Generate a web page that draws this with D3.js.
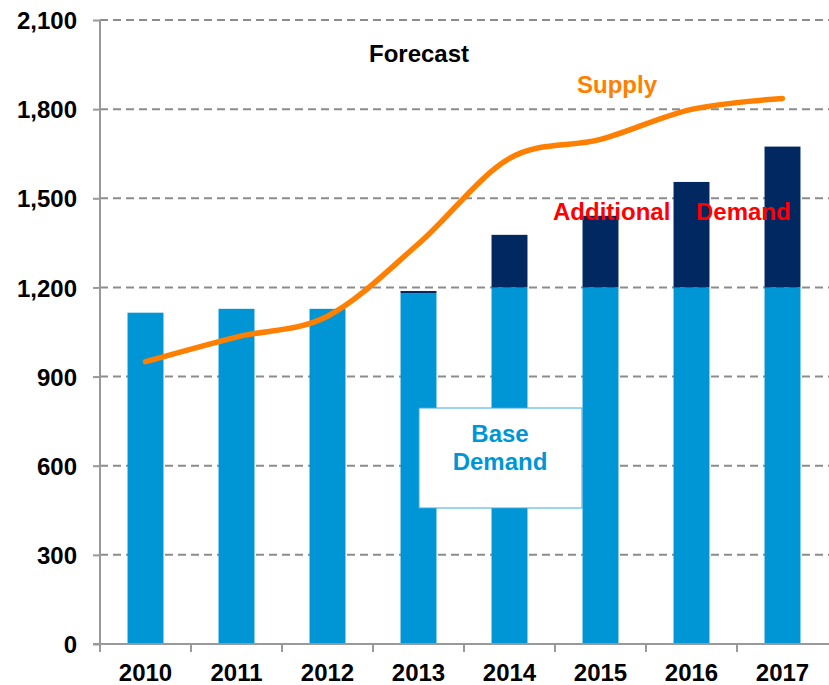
<!DOCTYPE html>
<html>
<head>
<meta charset="utf-8">
<script src="https://cdn.jsdelivr.net/npm/d3@7"></script>
<style>
body { margin: 0; background: #fff; }
text { font-family: "Liberation Sans", Arial, sans-serif; font-weight: bold; }
</style>
</head>
<body>
<div id="chart"></div>
<script>
// chart data
var years = ["2010", "2011", "2012", "2013", "2014", "2015", "2016", "2017"];
var baseDemand = [1115, 1128, 1128, 1180, 1200, 1200, 1200, 1200];
var addDemand = [0, 0, 0, 8, 177, 241, 355, 474];
var supply = [950, 1033, 1103, 1347, 1634, 1698, 1799, 1836];
var yTicks = [0, 300, 600, 900, 1200, 1500, 1800, 2100];

var w = 829, h = 685;
var plotLeft = 100, plotRight = 828, plotTop = 20, plotBottom = 644;

var svg = d3.select("#chart").append("svg").attr("width", w).attr("height", h);

var x = d3.scaleBand().domain(years).range([plotLeft, plotRight]).paddingInner(0.605).paddingOuter(0.3025);
var y = d3.scaleLinear().domain([0, 2100]).range([plotBottom, plotTop]);

// gridlines
svg.selectAll("line.grid")
	.data(yTicks.filter(function(d) { return d > 0; }))
	.enter()
	.append("line")
	.attr("class", "grid")
	.attr("x1", plotLeft).attr("x2", w)
	.attr("y1", function(d) { return y(d); })
	.attr("y2", function(d) { return y(d); })
	.attr("stroke", "#8c8c8c")
	.attr("stroke-width", 2)
	.attr("stroke-dasharray", "8,5");

// base bars
svg.selectAll("rect.base")
	.data(years)
	.enter()
	.append("rect")
	.attr("class", "base")
	.attr("x", function(d) { return x(d); })
	.attr("width", x.bandwidth())
	.attr("y", function(d, i) { return y(baseDemand[i]); })
	.attr("height", function(d, i) { return plotBottom - y(baseDemand[i]); })
	.attr("fill", "#0096d6");

// additional bars stacked on top
svg.selectAll("rect.add")
	.data(years)
	.enter()
	.append("rect")
	.attr("class", "add")
	.attr("x", function(d) { return x(d); })
	.attr("width", x.bandwidth())
	.attr("y", function(d, i) { return y(baseDemand[i] + addDemand[i]); })
	.attr("height", function(d, i) { return y(baseDemand[i]) - y(baseDemand[i] + addDemand[i]); })
	.attr("fill", "#022862");

// axes
var yAxis = d3.axisLeft(y).tickValues(yTicks).tickSize(7).tickFormat(d3.format(","));
var gy = svg.append("g").attr("transform", "translate(" + plotLeft + ",0)").call(yAxis);
gy.select(".domain").attr("stroke", "#999").attr("stroke-width", 2).attr("d", "M0," + plotTop + "V" + plotBottom);
gy.selectAll(".tick line").attr("stroke", "#999").attr("stroke-width", 2);
gy.selectAll(".tick text").attr("x", -23).attr("dy", "0.36em")
	.attr("font-size", 24).attr("fill", "#000")
	.style("font-family", "'Liberation Sans', Arial, sans-serif").style("font-weight", "bold");

var gx = svg.append("g").attr("transform", "translate(0," + plotBottom + ")");
gx.append("line").attr("x1", plotLeft - 7).attr("x2", w).attr("y1", 0).attr("y2", 0)
	.attr("stroke", "#999").attr("stroke-width", 2);
var bounds = years.map(function(d) { return x(d) - x.step() * x.paddingInner() / 2; });
gx.selectAll("line.tk")
	.data(bounds)
	.enter()
	.append("line")
	.attr("class", "tk")
	.attr("x1", function(d) { return d; }).attr("x2", function(d) { return d; })
	.attr("y1", 0).attr("y2", 8)
	.attr("stroke", "#999").attr("stroke-width", 2);
gx.selectAll("text")
	.data(years)
	.enter()
	.append("text")
	.attr("x", function(d) { return x(d) + x.bandwidth() / 2; })
	.attr("y", 37)
	.attr("text-anchor", "middle")
	.attr("font-size", 24)
	.text(function(d) { return d; });

// supply line
var line = d3.line()
	.x(function(d, i) { return x(years[i]) + x.bandwidth() / 2; })
	.y(function(d) { return y(d); })
	.curve(d3.curveCardinal.tension(0));
svg.append("path")
	.datum(supply)
	.attr("d", line)
	.attr("fill", "none")
	.attr("stroke", "#ff7f00")
	.attr("stroke-width", 5.5)
	.attr("stroke-linecap", "round");

// Base demand label box
svg.append("rect")
	.attr("x", 419).attr("y", 408).attr("width", 163).attr("height", 100)
	.attr("fill", "#fff").attr("stroke", "#3aa8de").attr("stroke-width", 1);
svg.append("text").attr("x", 500).attr("y", 442).attr("text-anchor", "middle")
	.attr("font-size", 24).attr("fill", "#0096d6").text("Base");
svg.append("text").attr("x", 500).attr("y", 470).attr("text-anchor", "middle")
	.attr("font-size", 24).attr("fill", "#0096d6").text("Demand");

// annotations
svg.append("text").attr("x", 419).attr("y", 62).attr("text-anchor", "middle")
	.attr("font-size", 24).attr("fill", "#000").text("Forecast");
svg.append("text").attr("x", 617).attr("y", 93).attr("text-anchor", "middle")
	.attr("font-size", 24).attr("fill", "#ff8000").text("Supply");
svg.append("text").attr("x", 553).attr("y", 220)
	.attr("font-size", 24).attr("fill", "#ff0000").text("Additional");
svg.append("text").attr("x", 696).attr("y", 220)
	.attr("font-size", 24).attr("fill", "#ff0000").text("Demand");
</script>
</body>
</html>
